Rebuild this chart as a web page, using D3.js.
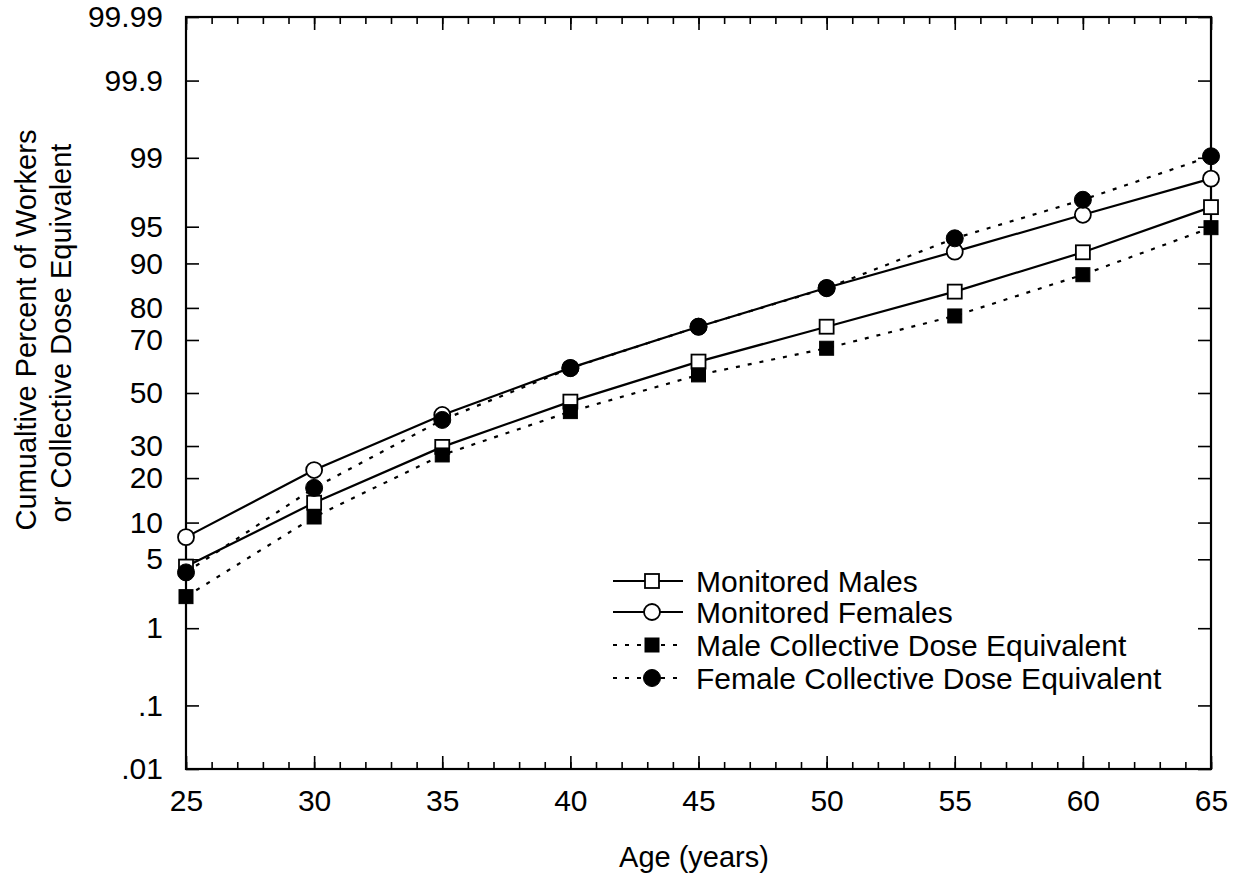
<!DOCTYPE html>
<html>
<head>
<meta charset="utf-8">
<script src="https://cdn.jsdelivr.net/npm/d3@7"></script>
<style>
  html, body { margin: 0; padding: 0; background: #fff; }
  svg { display: block; }
  text { font-family: "Liberation Sans", Arial, Helvetica, sans-serif; fill: #000; }
</style>
</head>
<body>
<svg id="chart" width="1234" height="873"></svg>
<script>
// ---- data ----
const ages = [25, 30, 35, 40, 45, 50, 55, 60, 65];
const monitoredMales   = [4.3, 13.9, 29.7, 46.6, 62.2, 74.4, 84.2, 91.8, 96.7];
const monitoredFemales = [7.7, 22.3, 41.4, 59.8, 74.4, 85.1, 91.9, 96.1, 98.3];
const maleCDE          = [2.2, 11.0, 27.0, 42.7, 57.1, 67.1, 77.7, 87.9, 94.9];
const femaleCDE        = [3.8, 17.4, 39.5, 59.7, 74.4, 85.0, 93.7, 97.2, 99.04];
const seriesNames = ["Monitored Males", "Monitored Females", "Male Collective Dose Equivalent", "Female Collective Dose Equivalent"];
const xTickValues = [25, 30, 35, 40, 45, 50, 55, 60, 65];
const yTickValues = [0.01, 0.1, 1, 5, 10, 20, 30, 50, 70, 80, 90, 95, 99, 99.9, 99.99];
const yTickLabels = [".01", ".1", "1", "5", "10", "20", "30", "50", "70", "80", "90", "95", "99", "99.9", "99.99"];
const xTitle = "Age (years)";
const yTitle1 = "Cumualtive Percent of Workers";
const yTitle2 = "or Collective Dose Equivalent";

// inverse normal CDF (Acklam)
function probit(p) {
  const a=[-3.969683028665376e+01,2.209460984245205e+02,-2.759285104469687e+02,1.383577518672690e+02,-3.066479806614716e+01,2.506628277459239e+00];
  const b=[-5.447609879822406e+01,1.615858368580409e+02,-1.556989798598866e+02,6.680131188771972e+01,-1.328068155288572e+01];
  const c=[-7.784894002430293e-03,-3.223964580411365e-01,-2.400758277161838e+00,-2.549732539343734e+00,4.374664141464968e+00,2.938163982698783e+00];
  const d=[7.784695709041462e-03,3.224671290700398e-01,2.445134137142996e+00,3.754408661907416e+00];
  const pl=0.02425, ph=1-pl;
  let q, r;
  if (p < pl) { q=Math.sqrt(-2*Math.log(p)); return (((((c[0]*q+c[1])*q+c[2])*q+c[3])*q+c[4])*q+c[5])/((((d[0]*q+d[1])*q+d[2])*q+d[3])*q+1); }
  if (p <= ph) { q=p-0.5; r=q*q; return (((((a[0]*r+a[1])*r+a[2])*r+a[3])*r+a[4])*r+a[5])*q/(((((b[0]*r+b[1])*r+b[2])*r+b[3])*r+b[4])*r+1); }
  q=Math.sqrt(-2*Math.log(1-p)); return -(((((c[0]*q+c[1])*q+c[2])*q+c[3])*q+c[4])*q+c[5])/((((d[0]*q+d[1])*q+d[2])*q+d[3])*q+1);
}

// ---- layout ----
const L = 186, R = 1211, T = 17, B = 769;
const svg = d3.select("#chart");
const FS = 30, FT = 29;

const x = d3.scaleLinear().domain([25, 65]).range([L, R]);
const zScale = d3.scaleLinear().domain([probit(0.0001), probit(0.9999)]).range([B, T]);
const y = p => zScale(probit(p / 100));

// ---- axes (ticks inward) ----
const minorYears = d3.range(25, 66, 1);
function styleAxis(g) {
  g.select(".domain").remove();
  g.selectAll("line").attr("stroke", "#000").attr("stroke-width", 1.6);
  g.selectAll("text").style("font-size", FS + "px").style("font-family", '"Liberation Sans", Arial, sans-serif').attr("fill", "#000");
}
svg.append("g").attr("transform", `translate(0,${B})`)
  .call(d3.axisBottom(x).tickValues(minorYears).tickSize(-7).tickFormat(""))
  .call(styleAxis);
svg.append("g").attr("transform", `translate(0,${B})`)
  .call(d3.axisBottom(x).tickValues(xTickValues).tickSize(-13).tickPadding(21).tickFormat(d3.format("d")))
  .call(styleAxis);
svg.append("g").attr("transform", `translate(0,${T})`)
  .call(d3.axisTop(x).tickValues(minorYears).tickSize(-7).tickFormat(""))
  .call(styleAxis);
svg.append("g").attr("transform", `translate(0,${T})`)
  .call(d3.axisTop(x).tickValues(xTickValues).tickSize(-13).tickFormat(""))
  .call(styleAxis);
svg.append("g").attr("transform", `translate(${L},0)`)
  .call(d3.axisLeft(zScale).tickValues(yTickValues.map(v => probit(v / 100))).tickSize(-13).tickPadding(23)
    .tickFormat((d, i) => yTickLabels[i]))
  .call(styleAxis);
svg.append("g").attr("transform", `translate(${R},0)`)
  .call(d3.axisRight(zScale).tickValues(yTickValues.map(v => probit(v / 100))).tickSize(-13).tickFormat(""))
  .call(styleAxis);

svg.append("rect").attr("x", L).attr("y", T).attr("width", R - L).attr("height", B - T)
  .attr("fill", "none").attr("stroke", "#000").attr("stroke-width", 2.2);

// ---- series ----
const series = [
  { name: seriesNames[0], values: monitoredMales,   dash: null,  shape: "square", filled: false },
  { name: seriesNames[1], values: monitoredFemales, dash: null,  shape: "circle", filled: false },
  { name: seriesNames[2], values: maleCDE,          dash: "4,8", shape: "square", filled: true },
  { name: seriesNames[3], values: femaleCDE,        dash: "4,8", shape: "circle", filled: true }
];

const line = d3.line().x(d => x(d.age)).y(d => y(d.v));
series.forEach(s => {
  const pts = ages.map((a, i) => ({ age: a, v: s.values[i] }));
  svg.append("path").datum(pts).attr("d", line)
    .attr("fill", "none").attr("stroke", "#000").attr("stroke-width", 2.2)
    .attr("stroke-dasharray", s.dash);
});

function marker(g, shape, filled, cx, cy) {
  if (shape === "square") {
    g.append("rect").attr("x", cx - 7).attr("y", cy - 7).attr("width", 14).attr("height", 14)
      .attr("fill", filled ? "#000" : "#fff").attr("stroke", "#000").attr("stroke-width", filled ? 1 : 1.8);
  } else {
    g.append("circle").attr("cx", cx).attr("cy", cy).attr("r", filled ? 8.5 : 8)
      .attr("fill", filled ? "#000" : "#fff").attr("stroke", "#000").attr("stroke-width", filled ? 1 : 1.8);
  }
}
series.forEach(s => {
  const g = svg.append("g");
  ages.forEach((a, i) => marker(g, s.shape, s.filled, x(a), y(s.values[i])));
});

// ---- legend ----
const legX0 = 613, legX1 = 683, legM = 652, legTx = 696;
const legY = [581, 612, 645, 678];
series.forEach((s, i) => {
  const g = svg.append("g");
  g.append("line").attr("x1", legX0).attr("x2", legX1).attr("y1", legY[i]).attr("y2", legY[i])
    .attr("stroke", "#000").attr("stroke-width", 2).attr("stroke-dasharray", s.dash);
  marker(g, s.shape, s.filled, legM, legY[i]);
  g.append("text").attr("x", legTx).attr("y", legY[i]).attr("dy", "0.36em")
    .style("font-size", FS + "px").text(s.name);
});

// ---- titles ----
svg.append("text").attr("x", 694).attr("y", 867).attr("text-anchor", "middle")
  .style("font-size", FT + "px").text(xTitle);
svg.append("text").attr("transform", "translate(36,330) rotate(-90)").attr("text-anchor", "middle")
  .style("font-size", FT + "px").text(yTitle1);
svg.append("text").attr("transform", "translate(71,333) rotate(-90)").attr("text-anchor", "middle")
  .style("font-size", FT + "px").text(yTitle2);
</script>
</body>
</html>
